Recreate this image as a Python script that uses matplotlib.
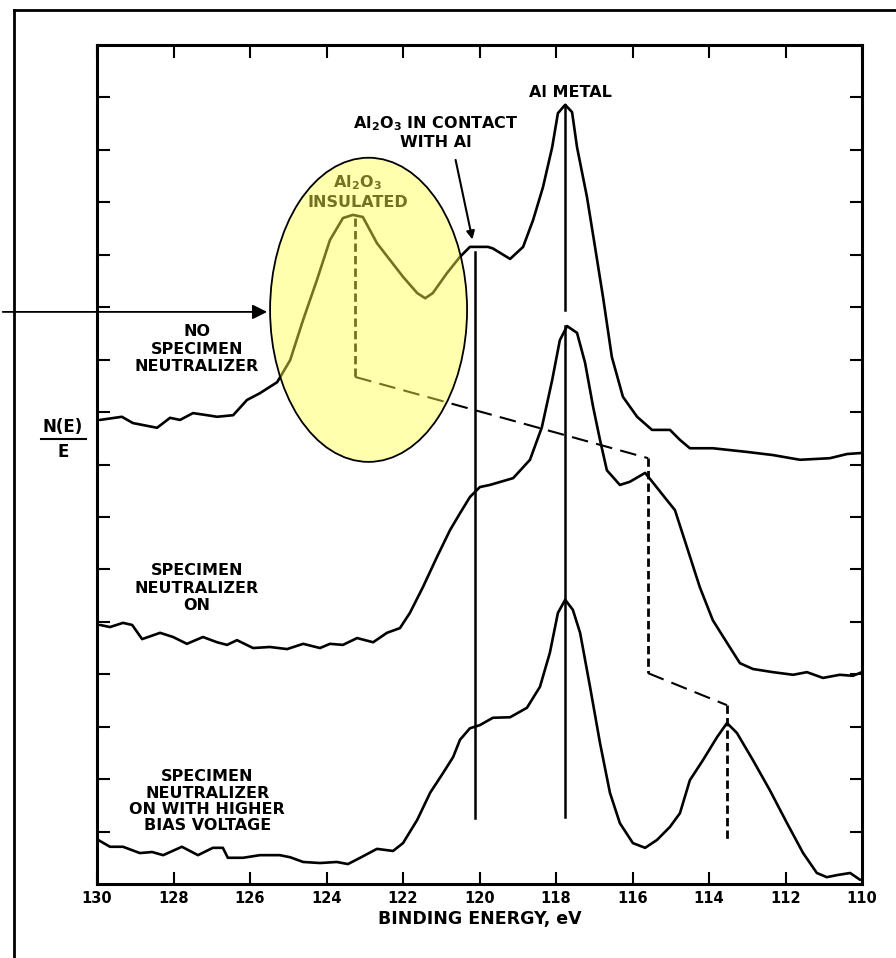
import numpy as np
import matplotlib
matplotlib.use('Agg')
import matplotlib.pyplot as plt
from matplotlib.patches import Ellipse
from matplotlib.lines import Line2D

plt.rcParams['font.family'] = ['DejaVu Sans']
plt.rcParams['font.weight'] = 'bold'

# binding energy (eV) and N(E)/E (arb. units, one unit per y tick)
be_no_neut = [129.92, 129.35, 129.06, 128.43, 128.09, 127.83, 127.49, 127.12, 126.86, 126.44,
              126.08, 125.74, 125.29, 124.95, 124.61, 124.25, 123.91, 123.57, 123.31, 123.05,
              122.68, 122.34, 122.00, 121.63, 121.42, 121.22, 120.85, 120.51, 120.25, 119.78,
              119.65, 119.20, 118.86, 118.60, 118.34, 118.10, 117.95, 117.76, 117.58, 117.45,
              117.19, 116.98, 116.77, 116.54, 116.25, 115.88, 115.49, 115.02, 114.76, 114.50,
              113.90, 113.01, 112.33, 111.62, 110.84, 110.39, 110.00]
nE_no_neut = [8.85, 8.91, 8.79, 8.70, 8.89, 8.85, 8.98, 8.94, 8.91, 8.94,
              9.23, 9.36, 9.57, 9.99, 10.76, 11.52, 12.28, 12.70, 12.76, 12.72,
              12.22, 11.90, 11.58, 11.27, 11.17, 11.27, 11.65, 11.96, 12.15, 12.15,
              12.12, 11.92, 12.15, 12.66, 13.29, 14.05, 14.70, 14.86, 14.72, 14.05,
              13.10, 12.15, 11.19, 10.05, 9.29, 8.91, 8.66, 8.66, 8.47, 8.31,
              8.31, 8.24, 8.18, 8.09, 8.12, 8.20, 8.22]

be_neut_on = [129.92, 129.66, 129.32, 129.08, 128.82, 128.35, 128.01, 127.65, 127.23, 126.86,
              126.60, 126.34, 125.92, 125.48, 125.03, 124.61, 124.17, 123.91, 123.57, 123.20,
              122.78, 122.42, 122.08, 121.82, 121.48, 121.11, 120.77, 120.51, 120.25, 119.99,
              119.73, 119.12, 118.68, 118.37, 118.10, 117.90, 117.71, 117.45, 117.24, 117.03,
              116.85, 116.67, 116.33, 116.07, 115.67, 115.46, 115.10, 114.89, 114.58, 114.24,
              113.90, 113.53, 113.19, 112.85, 112.33, 111.80, 111.44, 111.02, 110.58, 110.24,
              110.00]
nE_neut_on = [4.94, 4.90, 4.98, 4.94, 4.67, 4.79, 4.71, 4.58, 4.71, 4.61,
              4.56, 4.65, 4.50, 4.52, 4.48, 4.58, 4.50, 4.58, 4.56, 4.69,
              4.61, 4.79, 4.88, 5.17, 5.66, 6.24, 6.75, 7.07, 7.38, 7.57,
              7.61, 7.74, 8.09, 8.71, 9.61, 10.37, 10.64, 10.51, 9.94, 9.10,
              8.47, 7.89, 7.61, 7.67, 7.84, 7.65, 7.32, 7.13, 6.43, 5.66,
              5.03, 4.60, 4.21, 4.10, 4.04, 3.99, 4.04, 3.93, 3.99, 3.97,
              4.04]

be_high_bias = [129.97, 129.66, 129.32, 128.88, 128.56, 128.27, 127.78, 127.36, 126.97, 126.71,
                126.58, 126.18, 125.74, 125.22, 124.95, 124.61, 124.17, 123.73, 123.44, 123.12,
                122.68, 122.26, 122.00, 121.63, 121.29, 120.95, 120.69, 120.51, 120.25, 119.99,
                119.65, 119.20, 118.76, 118.42, 118.16, 117.95, 117.76, 117.56, 117.37, 117.11,
                116.85, 116.59, 116.33, 115.99, 115.67, 115.36, 115.02, 114.76, 114.50, 114.16,
                113.79, 113.53, 113.27, 112.85, 112.41, 111.96, 111.54, 111.18, 110.92, 110.65,
                110.31, 110.05]
nE_high_bias = [0.84, 0.71, 0.71, 0.59, 0.61, 0.55, 0.71, 0.55, 0.69, 0.69,
                0.50, 0.50, 0.55, 0.55, 0.51, 0.42, 0.40, 0.42, 0.38, 0.50,
                0.67, 0.63, 0.78, 1.22, 1.74, 2.12, 2.42, 2.75, 2.97, 3.03,
                3.17, 3.18, 3.36, 3.76, 4.41, 5.17, 5.42, 5.23, 4.79, 3.76,
                2.69, 1.74, 1.16, 0.78, 0.69, 0.84, 1.09, 1.35, 1.98, 2.36,
                2.80, 3.07, 2.88, 2.36, 1.79, 1.16, 0.59, 0.21, 0.13, 0.17,
                0.21, 0.08]

# dashed path following the shifted Al2O3 peak
shift_be = [123.25, 123.25, 115.59, 115.59, 113.53, 113.53]
shift_y = [12.70, 9.67, 8.12, 4.02, 3.41, 0.84]

# solid reference lines
contact_be = 120.12
contact_span = (1.26, 12.05)
metal_be = 117.76
metal_spans = [(10.95, 14.86), (1.28, 10.64)]

xtick_vals = list(range(130, 108, -2))
xtick_labels = [str(v) for v in xtick_vals]

fig = plt.figure(figsize=(8.96, 9.58), dpi=100)
ax = fig.add_axes([97/896, 1-884/958, 765/896, 839/958])

lw = 1.9
for be, ne in [(be_no_neut, nE_no_neut), (be_neut_on, nE_neut_on), (be_high_bias, nE_high_bias)]:
    ax.plot(be, ne, color='black', lw=lw, solid_joinstyle='round', solid_capstyle='round')

# dashed shift path: short dashes on verticals, long on diagonals
for i in range(len(shift_be) - 1):
    vert = shift_be[i] == shift_be[i+1]
    ax.plot(shift_be[i:i+2], shift_y[i:i+2], color='black',
            lw=2.0 if vert else 1.5,
            linestyle=(0, (3, 1.5)) if vert else (0, (8, 4)))

ax.plot([contact_be, contact_be], contact_span, color='black', lw=1.8)
for lo, hi in metal_spans:
    ax.plot([metal_be, metal_be], [lo, hi], color='black', lw=1.8)

ax.annotate('', xy=(120.17, 12.24), xytext=(120.64, 13.86),
            arrowprops=dict(arrowstyle='-|>', color='black', lw=1.5, mutation_scale=12))

# labels
fs = 11.5
tkw = dict(ha='center', va='center', fontsize=fs, fontweight='bold', linespacing=1.2)
ax.text(117.63, 15.10, 'Al METAL', **tkw)
ax.text(121.14, 14.34, 'Al$_\\mathbf{2}$O$_\\mathbf{3}$ IN CONTACT\nWITH Al', **tkw)
ax.text(123.18, 13.20, 'Al$_\\mathbf{2}$O$_\\mathbf{3}$\nINSULATED', **tkw)
ax.text(127.39, 10.20, 'NO\nSPECIMEN\nNEUTRALIZER', **tkw)
ax.text(127.39, 5.64, 'SPECIMEN\nNEUTRALIZER\nON', **tkw)
ax.text(127.12, 1.58, 'SPECIMEN\nNEUTRALIZER\nON WITH HIGHER\nBIAS VOLTAGE',
        ha='center', va='center', fontsize=fs, fontweight='bold', linespacing=1.1)

# highlight ellipse over the insulated peak
ax.add_patch(Ellipse((122.90, 10.95), 5.15, 5.80, facecolor=(1, 1, 0.3), alpha=0.45,
                     edgecolor='none', zorder=5))
ax.add_patch(Ellipse((122.90, 10.95), 5.15, 5.80, facecolor='none', edgecolor='black',
                     lw=1.3, zorder=6))
ax.annotate('', xy=(125.48, 10.91), xycoords='data',
            xytext=(0.0, 10.91), textcoords=('figure fraction', 'data'),
            arrowprops=dict(arrowstyle='-|>', color='black', lw=1.3, mutation_scale=22),
            annotation_clip=False, zorder=7)

ax.set_xlim(130, 110)
ax.set_ylim(0, 16)
ax.set_xticks(xtick_vals)
ax.set_xticklabels(xtick_labels, fontweight='bold')
ax.set_yticks(range(1, 16))
ax.tick_params(axis='x', direction='in', top=True, length=9, width=1.5, labelsize=10.5, pad=5)
ax.tick_params(axis='y', direction='in', right=True, length=9, width=1.5, labelleft=False)
for s in ax.spines.values():
    s.set_linewidth(2.2)
ax.set_xlabel('BINDING ENERGY, eV', fontsize=12.5, fontweight='bold', labelpad=3)

# y label as a stacked fraction
fig.text(63/896, 1-427/958, 'N(E)', ha='center', va='center', fontsize=12, fontweight='bold')
fig.text(63/896, 1-452/958, 'E', ha='center', va='center', fontsize=12, fontweight='bold')
fig.add_artist(Line2D([41/896, 86/896], [1-439/958, 1-439/958], color='black', lw=1.5))

# scan border
fig.add_artist(Line2D([14/896, 14/896], [0, 1-10/958], color='black', lw=2))
fig.add_artist(Line2D([14/896, 1], [1-10/958, 1-10/958], color='black', lw=2))

fig.savefig('out.png', dpi=100)
